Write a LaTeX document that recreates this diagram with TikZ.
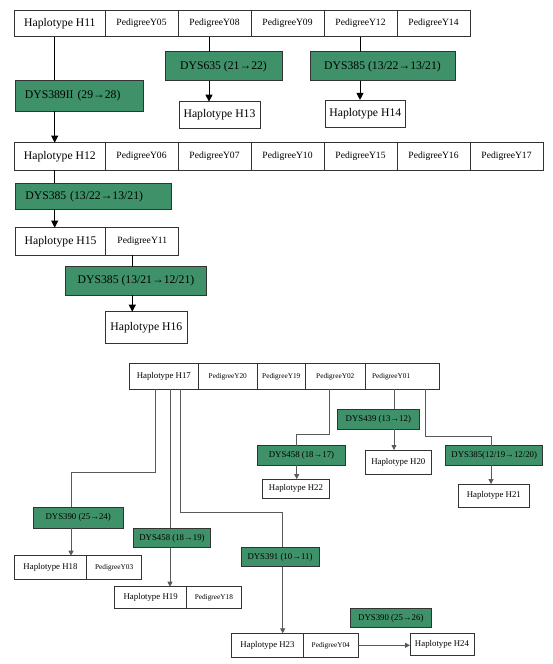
\documentclass[tikz,border=0pt]{standalone}
\usepackage{fontspec}
\setmainfont{Liberation Serif}
\usepackage{tikz}
\usetikzlibrary{arrows.meta,positioning}

\definecolor{mutgreen}{RGB}{63,145,105}

\tikzset{
    cell/.style={draw=black!80, line width=0.8pt, fill=white, inner sep=0pt, outer sep=0pt},
    hapA/.style={cell, font=\fontsize{11.7}{13}\selectfont},
    pedA/.style={cell, font=\fontsize{9.6}{11}\selectfont, minimum width=73pt},
    mutA/.style={cell, fill=mutgreen, font=\fontsize{11.7}{13}\selectfont},
    hapB/.style={cell, font=\fontsize{8.8}{10}\selectfont},
    pedB/.style={cell, font=\fontsize{7.3}{9}\selectfont},
    mutB/.style={cell, fill=mutgreen, font=\fontsize{8.8}{10}\selectfont},
    conA/.style={draw=black, line width=0.9pt},
    conB/.style={draw=black!65, line width=0.8pt},
    tipA/.style={-{Triangle[width=7pt,length=7pt]}},
    tipB/.style={-{Triangle[width=5pt,length=5pt]}}
}

\begin{document}
\begin{tikzpicture}[x=1pt, y=-1pt, node distance=0pt]
    \useasboundingbox (0,0) rectangle (553,664);

    % family of H11 - top row
    \node[hapA, minimum width=90.2pt, minimum height=26.7pt, anchor=west] (h11) at (14.8,23.3) {Haplotype H11};
    \node[pedA, minimum height=26.7pt, right=of h11] (y05) {PedigreeY05};
    \node[pedA, minimum height=26.7pt, right=of y05] (y08) {PedigreeY08};
    \node[pedA, minimum height=26.7pt, right=of y08] (y09) {PedigreeY09};
    \node[pedA, minimum height=26.7pt, right=of y09] (y12) {PedigreeY12};
    \node[pedA, minimum height=26.7pt, right=of y12] (y14) {PedigreeY14};
    % mutations from H11
    \node[mutA, minimum width=128pt, minimum height=31pt, text width=108pt, inner xsep=10pt, align=left] (d389) at (78.9,95.5) {DYS389II (29→28)};
    \node[mutA, minimum width=117pt, minimum height=29pt] (d635) at (223.5,66.2) {DYS635 (21→22)};
    \node[mutA, minimum width=145pt, minimum height=29pt] (d385t) at (382.5,66.2) {DYS385 (13/22→13/21)};
    \node[hapA, minimum width=81pt, minimum height=26.7pt] (h13) at (219.5,115) {Haplotype H13};
    \node[hapA, minimum width=79.4pt, minimum height=27.7pt] (h14) at (365.3,113.8) {Haplotype H14};

    % family of H12 - middle row
    \node[hapA, minimum width=90.2pt, minimum height=27.3pt, anchor=west] (h12) at (14.8,156.3) {Haplotype H12};
    \node[pedA, minimum height=27.3pt, right=of h12] (y06) {PedigreeY06};
    \node[pedA, minimum height=27.3pt, right=of y06] (y07) {PedigreeY07};
    \node[pedA, minimum height=27.3pt, right=of y07] (y10) {PedigreeY10};
    \node[pedA, minimum height=27.3pt, right=of y10] (y15) {PedigreeY15};
    \node[pedA, minimum height=27.3pt, right=of y15] (y16) {PedigreeY16};
    \node[pedA, minimum height=27.3pt, right=of y16] (y17) {PedigreeY17};
    \node[mutA, minimum width=156pt, minimum height=25.7pt, text width=135pt, inner xsep=10.5pt, align=left] (d385m) at (92.9,196.2) {DYS385 (13/22→13/21)};
    \node[hapA, minimum width=90.3pt, minimum height=27.3pt, anchor=west] (h15) at (15.5,241.3) {Haplotype H15};
    \node[pedA, minimum height=27.3pt, right=of h15] (y11) {PedigreeY11};
    \node[mutA, minimum width=140.7pt, minimum height=28.3pt] (d385n) at (136,280.8) {DYS385 (13/21→12/21)};
    \node[hapA, minimum width=81.2pt, minimum height=31.6pt] (h16) at (146.4,327.5) {Haplotype H16};

    % family of H17 - lower part
    \node[hapB, minimum width=69pt, minimum height=26pt, anchor=west] (h17) at (129.3,376.3) {Haplotype H17};
    \node[pedB, minimum width=59pt, minimum height=26pt, right=of h17] (y20) {PedigreeY20};
    \node[pedB, minimum width=48pt, minimum height=26pt, right=of y20] (y19) {PedigreeY19};
    \node[pedB, minimum width=60pt, minimum height=26pt, right=of y19] (y02) {PedigreeY02};
    \node[pedB, minimum width=73.7pt, minimum height=26pt, text width=60pt, align=left, right=of y02] (y01) {PedigreeY01};
    \node[mutB, minimum width=88.4pt, minimum height=19.3pt] (d458a) at (301.5,455.4) {DYS458 (18→17)};
    \node[hapB, minimum width=66.6pt, minimum height=19.3pt] (h22) at (296,488.7) {Haplotype H22};
    \node[mutB, minimum width=82pt, minimum height=20pt] (d439) at (378.3,419) {DYS439 (13→12)};
    \node[hapB, minimum width=66.7pt, minimum height=24pt] (h20) at (398.3,462) {Haplotype H20};
    \node[mutB, minimum width=97pt, minimum height=19.3pt] (d385c) at (494.2,455.4) {DYS385(12/19→12/20)};
    \node[hapB, minimum width=71pt, minimum height=23.3pt] (h21) at (493.8,495.7) {Haplotype H21};
    \node[mutB, minimum width=90.3pt, minimum height=21pt] (d390a) at (78.2,517.8) {DYS390 (25→24)};
    \node[hapB, minimum width=72.4pt, minimum height=23.6pt, anchor=west] (h18) at (14.3,567.5) {Haplotype H18};
    \node[pedB, minimum width=55pt, minimum height=23.6pt, right=of h18] (y03) {PedigreeY03};
    \node[mutB, minimum width=77.4pt, minimum height=19.2pt] (d458b) at (172,537.9) {DYS458 (18→19)};
    \node[hapB, minimum width=72.1pt, minimum height=22pt, anchor=west] (h19) at (114.6,597.7) {Haplotype H19};
    \node[pedB, minimum width=54.3pt, minimum height=22pt, right=of h19] (y18) {PedigreeY18};
    \node[mutB, minimum width=78pt, minimum height=19.4pt] (d391) at (280,557) {DYS391 (10→11)};
    \node[hapB, minimum width=71.6pt, minimum height=24pt, anchor=west] (h23) at (231.7,645.3) {Haplotype H23};
    \node[pedB, minimum width=55pt, minimum height=24pt, right=of h23] (y04) {PedigreeY04};
    \node[mutB, minimum width=81.7pt, minimum height=19.4pt] (d390b) at (390.8,618) {DYS390 (25→26)};
    \node[hapB, minimum width=64pt, minimum height=22.4pt] (h24) at (442,644.5) {Haplotype H24};

    % connector columns and bends
    \coordinate (xa) at (54.7,0);
    \coordinate (xb) at (209,0);
    \coordinate (xc) at (360,0);
    \coordinate (xd) at (132.3,0);
    \coordinate (b1) at (155.7,472.7);
    \coordinate (b2) at (71,472.7);
    \coordinate (b3) at (170,0);
    \coordinate (b4) at (180.7,512.3);
    \coordinate (b5) at (282.7,512.3);
    \coordinate (b6) at (329.3,434.3);
    \coordinate (b7) at (296.7,434.3);
    \coordinate (b8) at (394,0);
    \coordinate (b9) at (425,436);
    \coordinate (b10) at (491,436);

    % upper connectors
    \draw[conA] (h11.south -| xa) -- (d389.north -| xa);
    \draw[conA, tipA] (d389.south -| xa) -- (h12.north -| xa);
    \draw[conA] (y08.south -| xb) -- (d635.north -| xb);
    \draw[conA, tipA] (d635.south -| xb) -- (h13.north -| xb);
    \draw[conA] (y12.south -| xc) -- (d385t.north -| xc);
    \draw[conA, tipA] (d385t.south -| xc) -- (h14.north -| xc);
    \draw[conA] (h12.south -| xa) -- (d385m.north -| xa);
    \draw[conA, tipA] (d385m.south -| xa) -- (h15.north -| xa);
    \draw[conA] (y11.south -| xd) -- (d385n.north -| xd);
    \draw[conA, tipA] (d385n.south -| xd) -- (h16.north -| xd);

    % lower connectors
    \draw[conB] (h17.south -| b1) -- (b1) -- (b2) -- (d390a.north -| b2);
    \draw[conB, tipB] (d390a.south -| b2) -- (h18.north -| b2);
    \draw[conB] (h17.south -| b3) -- (d458b.north -| b3);
    \draw[conB, tipB] (d458b.south -| b3) -- (h19.north -| b3);
    \draw[conB] (h17.south -| b4) -- (b4) -- (b5) -- (d391.north -| b5);
    \draw[conB, tipB] (d391.south -| b5) -- (h23.north -| b5);
    \draw[conB] (y02.south -| b6) -- (b6) -- (b7) -- (d458a.north -| b7);
    \draw[conB, tipB] (d458a.south -| b7) -- (h22.north -| b7);
    \draw[conB] (y01.south -| b8) -- (d439.north -| b8);
    \draw[conB, tipB] (d439.south -| b8) -- (h20.north -| b8);
    \draw[conB] (y01.south -| b9) -- (b9) -- (b10) -- (d385c.north -| b10);
    \draw[conB, tipB] (d385c.south -| b10) -- (h21.north -| b10);
    \draw[conB, tipB] (y04.east) -- (y04.east -| h24.west);
\end{tikzpicture}
\end{document}
